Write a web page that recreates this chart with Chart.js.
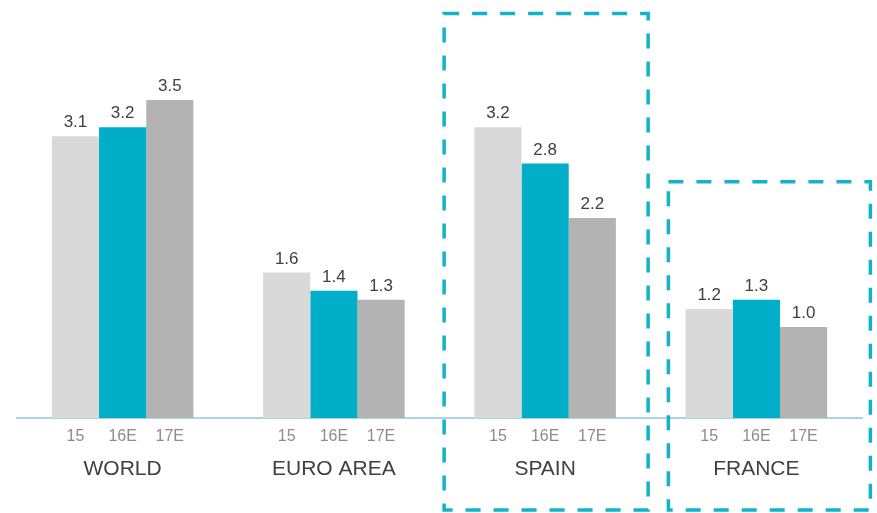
<!DOCTYPE html>
<html>
<head>
<meta charset="utf-8">
<script src="https://cdn.jsdelivr.net/npm/chart.js@4"></script>
<style>
  body { margin: 0; background: #fff; }
  canvas { display: block; }
</style>
</head>
<body>
<canvas id="gdpChart" width="877" height="513"></canvas>
<script>
// Data
const regions = ['WORLD', 'EURO AREA', 'SPAIN', 'FRANCE'];
const yearLabels = ['15', '16E', '17E'];
const growth15 = [3.1, 1.6, 3.2, 1.2];
const growth16E = [3.2, 1.4, 2.8, 1.3];
const growth17E = [3.5, 1.3, 2.2, 1.0];
const barColors = ['#d9d9d9', '#00aec7', '#b3b3b3'];

// Dashed highlight boxes (region, offsets from group centre, top value)
const highlightBoxes = [
  { region: 'SPAIN', left: -101, right: 103, topValue: 4.45 },
  { region: 'FRANCE', left: -88, right: 114, topValue: 2.6 },
];

const font = "'Liberation Sans', Arial, sans-serif";

// Draws value labels above bars and year labels under each bar
const barLabelsPlugin = {
  id: 'barLabels',
  afterDatasetsDraw(chart) {
    const ctx = chart.ctx;
    const baseY = chart.scales.y.getPixelForValue(0);
    ctx.save();
    chart.data.datasets.forEach((ds, di) => {
      const meta = chart.getDatasetMeta(di);
      meta.data.forEach((bar, i) => {
        ctx.textAlign = 'center';
        ctx.fillStyle = '#404040';
        ctx.font = `17px ${font}`;
        ctx.textBaseline = 'alphabetic';
        ctx.fillText(ds.data[i].toFixed(1), bar.x, bar.y - 9);

        ctx.fillStyle = '#8c8c8c';
        ctx.font = `16px ${font}`;
        ctx.textBaseline = 'middle';
        ctx.fillText(ds.label, bar.x, baseY + 19);
      });
    });
    ctx.restore();
  }
};

const boxesPlugin = {
  id: 'highlightBoxes',
  afterDraw(chart) {
    const ctx = chart.ctx;
    const x = chart.scales.x;
    const y = chart.scales.y;
    ctx.save();
    ctx.strokeStyle = '#12b2ca';
    ctx.lineWidth = 3.5;
    ctx.setLineDash([15, 13]);
    highlightBoxes.forEach(b => {
      const cx = x.getPixelForValue(regions.indexOf(b.region));
      const top = y.getPixelForValue(b.topValue);
      const bottom = chart.height - 3;
      ctx.strokeRect(cx + b.left, top, b.right - b.left, bottom - top);
    });
    ctx.restore();
  }
};

new Chart(document.getElementById('gdpChart'), {
  type: 'bar',
  data: {
    labels: regions,
    datasets: [
      { label: yearLabels[0], data: growth15, backgroundColor: barColors[0] },
      { label: yearLabels[1], data: growth16E, backgroundColor: barColors[1] },
      { label: yearLabels[2], data: growth17E, backgroundColor: barColors[2] },
    ],
  },
  options: {
    responsive: false,
    animation: false,
    layout: { padding: { left: 17, right: 15, top: 9, bottom: 0 } },
    datasets: {
      bar: { barPercentage: 1, categoryPercentage: 0.67 },
    },
    plugins: {
      legend: { display: false },
      tooltip: { enabled: false },
    },
    scales: {
      x: {
        grid: { display: false, drawTicks: false },
        border: { display: true, color: '#a9d6e0', width: 2 },
        ticks: {
          padding: 39,
          color: '#404040',
          font: { family: font, size: 21 },
        },
        afterFit(scale) {
          scale.height = 95;
        },
      },
      y: {
        display: false,
        min: 0,
        max: 4.5,
      },
    },
  },
  plugins: [barLabelsPlugin, boxesPlugin],
});
</script>
</body>
</html>
